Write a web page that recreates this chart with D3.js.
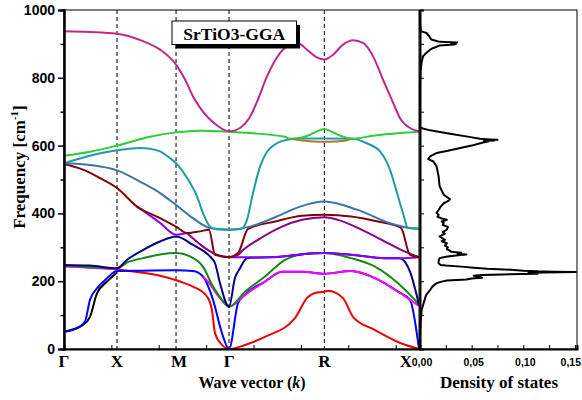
<!DOCTYPE html>
<html>
<head>
<meta charset="utf-8">
<script src="https://cdn.jsdelivr.net/npm/d3@7"></script>
<style>
  body { margin: 0; background: #fff; }
  svg { display: block; }
</style>
</head>
<body>
<svg id="chart" width="582" height="400"></svg>
<script>
// ---- data -------------------------------------------------------------
// high-symmetry points along the k path (cumulative path length)
const kLabels = ["Γ", "X", "M", "Γ", "R", "X"];
const kPoints = [0, 0.5, 1.057, 1.557, 2.456, 3.349];
const freqTicks = [0, 200, 400, 600, 800, 1000];
const dosTickValues = [0, 0.05, 0.10, 0.15];
const dosTickLabels = ["0,00", "0,05", "0,10", "0,15"];
const titleText = "SrTiO3-GGA";

// phonon branches as [k, frequency (cm^-1)]; NaN marks a gap
const bandBlack = [[0,51],[0.179,71],[0.245,95],[0.311,164],[0.406,199],[0.5,226]];
const bandRed = [[0,244],[0.5,235],[0.594,231],[0.745,225],[0.906,216],[1.057,203],[1.094,199],
  [1.217,184],[1.349,155],[1.396,115],[1.425,46],[1.491,12],[1.557,0],[1.708,12],[1.896,36],
  [2.179,91],[2.292,150],[2.368,165],[2.456,169],[2.491,172],[2.632,150],[2.726,95],[2.934,56],
  [3.179,17],[3.349,0]];
const bandBlue = [[0,51],[0.123,61],[0.198,81],[0.245,145],[0.311,179],[0.406,209],[0.5,230],
  [0.745,231],[1.057,232],[1.217,230],[1.311,214],[1.406,145],[1.491,46],[1.557,0],[1.642,135],
  [1.708,160],[1.896,199],[2.057,228],[2.245,228],[2.456,222],[2.708,230],[2.934,209],
  [3.151,169],[3.264,145],[3.349,0]];
const bandPink = [[0,244],[0.245,240],[0.5,235],[NaN,NaN],[1.311,214],[1.358,199],[1.472,150],
  [1.557,125],[1.708,160],[1.896,199],[2.057,228],[2.245,228],[2.456,222],[2.708,230],
  [2.934,209],[3.151,169],[3.349,127]];
const bandGreen = [[0,247],[0.5,238],[0.594,255],[0.745,268],[0.906,279],[1.057,283],[1.189,273],
  [1.311,243],[1.406,184],[1.491,145],[1.557,125],[1.708,169],[1.896,214],[2.085,263],
  [2.274,280],[2.456,283],[2.708,268],[2.934,243],[3.151,194],[3.349,132]];
const bandNavy = [[0,248],[0.245,246],[0.5,238],[0.594,263],[0.745,292],[0.906,317],[1.057,332],
  [1.217,307],[1.377,273],[1.425,253],[1.472,194],[1.557,125],[1.613,210],[1.66,238],
  [1.726,268],[1.849,270],[2.038,272],[2.226,279],[2.456,283],[2.708,278],[3.028,268],
  [3.17,268],[3.264,228],[3.349,130]];
const bandViolet = [[0.689,420],[0.745,408],[0.906,372],[1.057,337],[1.16,342],[NaN,NaN],
  [1.557,271],[1.689,271],[1.849,270],[2.038,272],[2.226,279],[2.456,283],[2.708,278],
  [3.028,268],[3.17,268],[3.349,271]];
const bandPurple = [[1.16,342],[1.311,302],[1.443,278],[1.557,271],[1.642,278],[1.689,292],
  [1.83,322],[2.057,361],[2.245,381],[2.456,389],[2.585,381],[2.805,352],[3.028,317],
  [3.217,287],[3.349,271]];
const bandMaroon = [[0,546],[0.179,529],[0.34,504],[0.5,475],[0.689,420],[0.906,386],[1.057,361],
  [1.16,342],[1.283,347],[1.368,352],[1.425,278],[1.557,271],[1.642,283],[1.736,354],
  [1.991,376],[2.245,393],[2.456,396],[2.708,391],[2.962,376],[3.179,357],[3.264,278],[3.349,271]];
const bandSteel = [[0,549],[0.245,543],[0.5,527],[0.745,489],[0.906,460],[1.057,425],[1.217,386],
  [1.377,357],[1.557,352],[1.755,361],[2.009,391],[2.226,420],[2.456,435],[2.764,411],
  [3.075,371],[3.264,357],[3.349,355]];
const bandTeal = [[0,548],[0.245,570],[0.5,586],[0.717,593],[0.811,591],[0.906,583],[1.0,563],
  [1.057,548],[1.16,505],[1.255,450],[1.311,401],[1.377,361],[1.434,353],[1.557,352],[1.67,354],
  [1.726,381],[1.783,460],[1.849,538],[1.915,582],[2.009,607],[2.132,619],[2.226,621],
  [2.456,621],[2.726,620],[2.855,607],[2.981,583],[3.075,529],[3.142,460],[3.198,401],
  [3.245,357],[3.349,355]];
const bandBrown = [[2.132,620],[2.255,615],[2.358,612],[2.456,611],[2.557,612],[2.66,615],[2.713,620]];
const bandLime = [[0,570],[0.245,582],[0.5,600],[0.811,626],[1.057,639],[1.283,644],[1.557,641],
  [1.755,637],[2.085,626],[2.132,620],[2.255,625],[2.321,632],[2.384,642],[2.456,649],
  [2.52,642],[2.585,632],[2.648,625],[2.713,620],[2.915,629],[3.17,637],[3.349,641]];
const bandTop = [[0,937],[0.245,935],[0.5,930],[0.745,908],[0.906,883],[1.057,839],[1.142,795],
  [1.217,745],[1.283,712],[1.358,683],[1.443,660],[1.5,648],[1.557,642],[1.613,645],[1.66,652],
  [1.755,685],[1.83,736],[1.915,804],[2.038,873],[2.132,897],[2.208,902],[2.292,883],
  [2.377,862],[2.456,854],[2.538,868],[2.632,898],[2.726,911],[2.821,903],[2.915,864],
  [3.009,795],[3.104,727],[3.17,681],[3.264,652],[3.349,642]];

// phonon density of states: frequency (cm^-1) and density
const dosFreq = [1000,960,945,937,932,922,913,906,904,902,900,898,895,888,883,870,864,845,820,780,700,
  655,652,645,635,625,620,618,617,616,615,614,612,610,600,593,585,578,568,560,553,539,510,480,455,
  442,436,430,420,410,401,396,390,384,381,376,372,366,360,352,345,340,332,326,322,318,312,305,300,
  294,290,287,284,282,279,277,272,268,260,253,248,246,243,240,237,234,231,229,228,227,226,225,224,
  222,220,218,216,213,210,208,205,202,198,194,184,174,160,150,130,115,85,50,0];
const dosDens = [0,0,0.0005,0.001,0.0065,0.009,0.011,0.019,0.036,0.030,0.035,0.033,0.019,0.013,0.0097,
  0.005,0.003,0.0015,0.0005,0,0,
  0,0.001,0.0097,0.029,0.049,0.058,0.068,0.075,0.066,0.072,0.062,0.066,0.062,0.050,0.039,0.027,0.016,
  0.0097,0.008,0.013,0.016,0.018,0.019,0.023,
  0.029,0.027,0.023,0.020,0.018,0.016,0.018,0.017,0.022,0.026,0.021,0.023,0.022,0.027,0.026,0.022,
  0.024,0.019,0.022,0.024,0.021,0.026,0.024,0.027,
  0.026,0.029,0.030,0.040,0.036,0.045,0.039,0.025,0.019,0.018,0.018,0.020,0.025,0.040,0.052,0.065,
  0.088,0.100,0.114,0.130,0.151,0.120,0.105,0.110,
  0.114,0.080,0.060,0.052,0.058,0.060,0.050,0.045,0.026,0.020,0.016,0.012,0.0097,0.006,0.005,0.003,
  0.0016,0.0007,0.0002,0];

// ---- layout -----------------------------------------------------------
const plot = { left: 64, right: 419, top: 10, bottom: 349 };
const dosPanel = { left: 420, right: 577 };
const serif = "'Liberation Serif', 'Times New Roman', serif";
const sans = "'Liberation Sans', Arial, sans-serif";

const svg = d3.select("#chart");

const x = d3.scaleLinear().domain([0, kPoints[kPoints.length - 1]]).range([plot.left, plot.right]);
const y = d3.scaleLinear().domain([0, 1000]).range([plot.bottom, plot.top]);
const xd = d3.scaleLinear().domain([0, 0.152]).range([dosPanel.left, dosPanel.right]);

svg.append("defs").append("clipPath").attr("id", "plotClip")
  .append("rect")
  .attr("x", plot.left).attr("y", plot.top)
  .attr("width", plot.right - plot.left).attr("height", plot.bottom - plot.top);

// high-symmetry guide lines
svg.append("g").selectAll("line")
  .data(kPoints.slice(1, -1))
  .join("line")
  .attr("x1", d => x(d)).attr("x2", d => x(d))
  .attr("y1", plot.top).attr("y2", plot.bottom)
  .attr("stroke", "#000").attr("stroke-width", 1)
  .attr("stroke-dasharray", "4,3");

// dispersion branches, drawn bottom to top
const branches = [
  { data: bandBlack,  color: "#000000" },
  { data: bandRed,    color: "#ee0000" },
  { data: bandBlue,   color: "#0000ff" },
  { data: bandPink,   color: "#ff00ff" },
  { data: bandGreen,  color: "#138a13" },
  { data: bandNavy,   color: "#000080" },
  { data: bandViolet, color: "#8a00ff" },
  { data: bandPurple, color: "#880088" },
  { data: bandMaroon, color: "#820008" },
  { data: bandSteel,  color: "#3a76a6" },
  { data: bandTeal,   color: "#1f9d9d" },
  { data: bandBrown,  color: "#a87830" },
  { data: bandLime,   color: "#2dcc3c" },
  { data: bandTop,    color: "#be2a84" }
];

const bandLine = d3.line()
  .defined(d => !isNaN(d[1]))
  .x(d => x(d[0]))
  .y(d => y(d[1]))
  .curve(d3.curveMonotoneX);

svg.append("g").attr("clip-path", "url(#plotClip)")
  .selectAll("path")
  .data(branches)
  .join("path")
  .attr("d", d => bandLine(d.data))
  .attr("fill", "none")
  .attr("stroke", d => d.color)
  .attr("stroke-width", 2)
  .attr("stroke-linejoin", "round");

// DOS curve
const dosPoints = dosFreq.map((f, i) => [dosDens[i], f]);
svg.append("path")
  .attr("d", d3.line().x(d => xd(d[0])).y(d => y(d[1]))(dosPoints))
  .attr("fill", "none")
  .attr("stroke", "#000")
  .attr("stroke-width", 2)
  .attr("stroke-linejoin", "round");

// frames
svg.append("rect")
  .attr("x", plot.left).attr("y", plot.top)
  .attr("width", plot.right - plot.left).attr("height", plot.bottom - plot.top)
  .attr("fill", "none").attr("stroke", "#000").attr("stroke-width", 1);
svg.append("rect")
  .attr("x", dosPanel.left).attr("y", plot.top)
  .attr("width", dosPanel.right - dosPanel.left).attr("height", plot.bottom - plot.top)
  .attr("fill", "none").attr("stroke", "#000").attr("stroke-width", 1);

// left frequency axis
const yMinor = svg.append("g").attr("transform", `translate(${plot.left},0)`)
  .call(d3.axisLeft(y).tickValues(d3.range(100, 1000, 200)).tickSize(3.5).tickFormat(""));
const yMajor = svg.append("g").attr("transform", `translate(${plot.left},0)`)
  .call(d3.axisLeft(y).tickValues(freqTicks).tickSize(6).tickPadding(3).tickFormat(d3.format("d")));
[yMinor, yMajor].forEach(g => {
  g.select(".domain").attr("stroke-width", 2);
  g.selectAll(".tick line").attr("stroke-width", 1.5);
});
yMajor.selectAll(".tick text")
  .attr("font-family", sans).attr("font-weight", "bold").attr("font-size", 14).attr("fill", "#000");

// bottom k axis
const xAxis = svg.append("g").attr("transform", `translate(0,${plot.bottom})`)
  .call(d3.axisBottom(x).tickValues(d3.range(0, 3.349, 0.447)).tickSize(-4).tickFormat(""));
xAxis.select(".domain").attr("stroke-width", 2);
xAxis.selectAll(".tick line").attr("stroke-width", 1);

// symmetry-point labels; the last one sits left of its line to leave room for the DOS scale
svg.append("g").selectAll("text")
  .data(kPoints)
  .join("text")
  .attr("x", (d, i) => i === kPoints.length - 1 ? x(d) - 13 : x(d) + (i === 2 ? 3 : 0))
  .attr("y", 367)
  .attr("text-anchor", "middle")
  .attr("font-family", serif).attr("font-weight", "bold").attr("font-size", 17)
  .text((d, i) => kLabels[i]);

// DOS axes
const dosLeft = svg.append("g").attr("transform", `translate(${dosPanel.left},0)`)
  .call(d3.axisRight(y).tickValues(d3.range(0, 1001, 100)).tickSize(4).tickFormat(""));
dosLeft.select(".domain").attr("stroke-width", 2);
dosLeft.selectAll(".tick line").attr("stroke-width", 1);

const dosBottom = svg.append("g").attr("transform", `translate(0,${plot.bottom})`)
  .call(d3.axisBottom(xd).tickValues(d3.range(0, 0.151, 0.025)).tickSize(-4).tickFormat(""));
dosBottom.select(".domain").attr("stroke-width", 2);
dosBottom.selectAll(".tick line").attr("stroke-width", 1);

svg.append("g").selectAll("text")
  .data(dosTickValues)
  .join("text")
  .attr("x", (d, i) => i === dosTickValues.length - 1 ? 581 : xd(d) + 2)
  .attr("y", 366)
  .attr("text-anchor", (d, i) => i === dosTickValues.length - 1 ? "end" : "middle")
  .attr("font-family", sans).attr("font-weight", "bold").attr("font-size", 10.5)
  .text((d, i) => dosTickLabels[i]);

// axis titles
const xTitle = svg.append("text")
  .attr("x", 252).attr("y", 388)
  .attr("text-anchor", "middle")
  .attr("font-family", serif).attr("font-weight", "bold").attr("font-size", 16);
xTitle.append("tspan").text("Wave vector (");
xTitle.append("tspan").attr("font-style", "italic").text("k");
xTitle.append("tspan").text(")");

svg.append("text")
  .attr("x", 499).attr("y", 388)
  .attr("text-anchor", "middle")
  .attr("font-family", serif).attr("font-weight", "bold").attr("font-size", 17)
  .text("Density of states");

const yTitle = svg.append("text")
  .attr("transform", "translate(25,167) rotate(-90)")
  .attr("text-anchor", "middle")
  .attr("font-family", serif).attr("font-weight", "bold").attr("font-size", 17);
yTitle.append("tspan").text("Frequency [cm");
yTitle.append("tspan").attr("dy", -7).attr("font-size", 11).text("-1");
yTitle.append("tspan").attr("dy", 7).text("]");

// title box with drop shadow
const box = { x: 172, y: 21, w: 124.5, h: 23.5 };
svg.append("rect")
  .attr("x", box.x + 3.5).attr("y", box.y + 4)
  .attr("width", box.w).attr("height", box.h)
  .attr("fill", "#000");
svg.append("rect")
  .attr("x", box.x).attr("y", box.y)
  .attr("width", box.w).attr("height", box.h)
  .attr("fill", "#fff").attr("stroke", "#000").attr("stroke-width", 1);
svg.append("text")
  .attr("x", box.x + box.w / 2).attr("y", box.y + 19)
  .attr("text-anchor", "middle")
  .attr("font-family", serif).attr("font-weight", "bold").attr("font-size", 17.5)
  .text(titleText);
</script>
</body>
</html>
